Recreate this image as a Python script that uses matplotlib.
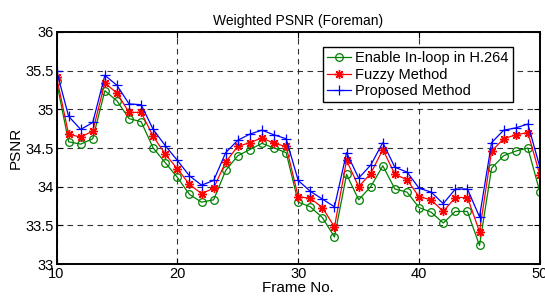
import matplotlib
matplotlib.use("Agg")
import matplotlib.pyplot as plt

plt.rcParams["font.family"] = ["Liberation Sans", "DejaVu Sans"]

frames = list(range(10, 51))
enable_inloop = [35.36, 34.58, 34.55, 34.62, 35.24, 35.11, 34.88, 34.84, 34.50, 34.31,
                 34.12, 33.90, 33.80, 33.83, 34.21, 34.40, 34.48, 34.56, 34.50, 34.44,
                 33.80, 33.74, 33.60, 33.35, 34.16, 33.83, 34.00, 34.27, 33.97, 33.93,
                 33.73, 33.67, 33.53, 33.68, 33.68, 33.24, 34.24, 34.40, 34.46, 34.50,
                 33.93]
fuzzy = [35.42, 34.68, 34.64, 34.72, 35.34, 35.21, 34.96, 34.96, 34.65, 34.42,
         34.23, 34.03, 33.91, 33.98, 34.32, 34.52, 34.57, 34.63, 34.56, 34.52,
         33.87, 33.85, 33.73, 33.48, 34.34, 34.00, 34.17, 34.48, 34.16, 34.09,
         33.87, 33.83, 33.68, 33.86, 33.86, 33.42, 34.46, 34.62, 34.67, 34.70,
         34.15]
proposed = [35.50, 34.91, 34.74, 34.83, 35.44, 35.31, 35.07, 35.06, 34.74, 34.53,
            34.34, 34.14, 34.02, 34.08, 34.44, 34.60, 34.68, 34.73, 34.67, 34.62,
            34.08, 33.94, 33.84, 33.74, 34.44, 34.11, 34.28, 34.57, 34.25, 34.19,
            33.98, 33.93, 33.78, 33.97, 33.97, 33.61, 34.57, 34.73, 34.76, 34.81,
            34.25]

fig = plt.figure(figsize=(5.45, 2.96), dpi=100)
ax = fig.add_axes([0.1037, 0.108, 0.887, 0.784])

ax.plot(frames, enable_inloop, color="#008000", marker="o", markersize=5.5,
        markerfacecolor="none", markeredgewidth=0.9, linewidth=0.9,
        label="Enable In-loop in H.264")
ax.plot(frames, fuzzy, color="#ff0000", marker=(8, 2, 0), markersize=6.5,
        markeredgewidth=1.0, linewidth=0.9, label="Fuzzy Method")
ax.plot(frames, proposed, color="#0000ff", marker="+", markersize=7,
        markeredgewidth=0.9, linewidth=0.9, label="Proposed Method")

ax.set_xlim(10, 50)
ax.set_ylim(33, 36)
ax.set_xticks([10, 20, 30, 40, 50])
ax.set_yticks([33, 33.5, 34, 34.5, 35, 35.5, 36])
ax.set_yticklabels(["33", "33.5", "34", "34.5", "35", "35.5", "36"])
ax.grid(True, color="k", linestyle=(0, (5, 4)), linewidth=0.8, alpha=0.8)
ax.tick_params(direction="in", top=True, right=True, labelsize=10.5, length=4, pad=2)
for s in ax.spines.values():
    s.set_linewidth(1.4)

ax.set_title("Weighted PSNR (Foreman)", fontsize=10, pad=5)
ax.set_xlabel("Frame No.", fontsize=11, labelpad=0)
ax.set_ylabel("PSNR", fontsize=11, labelpad=2)

leg = ax.legend(loc="upper right", bbox_to_anchor=(0.944, 0.935), fontsize=10.5,
                fancybox=False, edgecolor="k", framealpha=1, handlelength=1.6,
                handletextpad=0.3, borderaxespad=0, borderpad=0.3, labelspacing=0.15)
leg.get_frame().set_linewidth(1.0)

fig.savefig("out.png", dpi=100)
